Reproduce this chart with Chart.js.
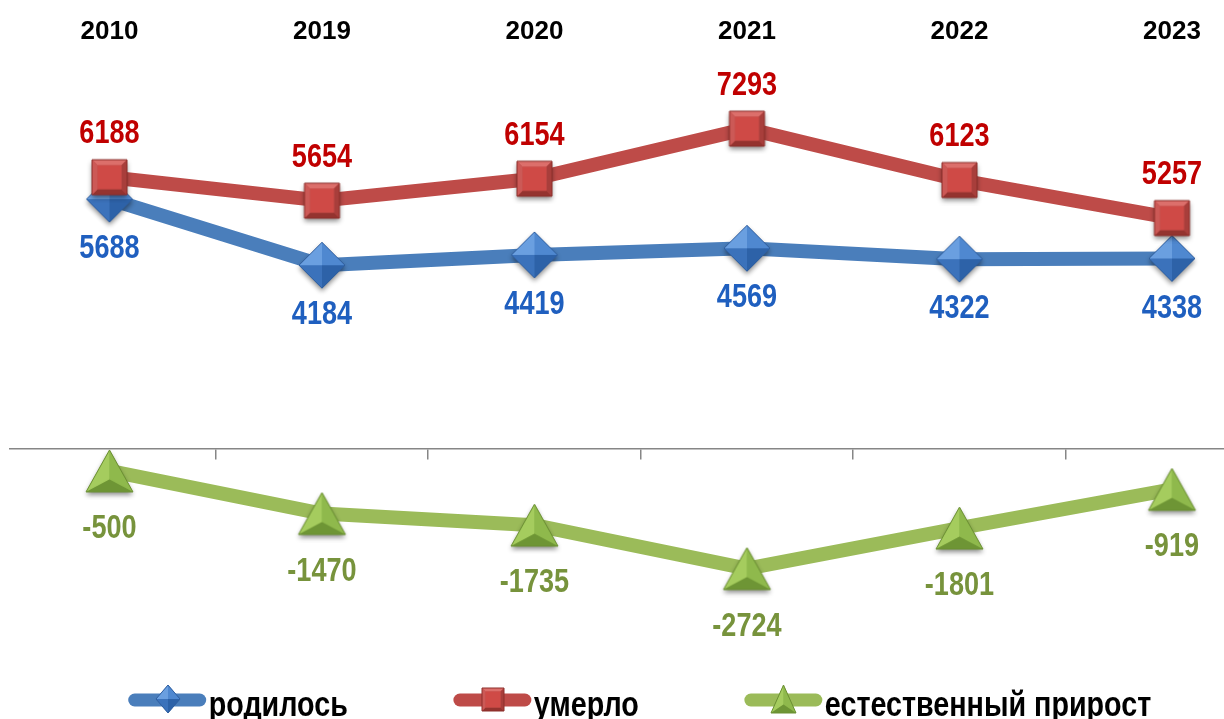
<!DOCTYPE html>
<html><head><meta charset="utf-8">
<script src="https://cdn.jsdelivr.net/npm/chart.js@4.4.1/dist/chart.umd.min.js"></script>
<style>html,body{margin:0;padding:0;background:#fff;overflow:hidden}#wrap{width:1224px;height:719px;position:relative}</style>
</head><body><div id="wrap"><canvas id="c"></canvas></div>
<script>
// ---- data ----
const years = ['2010', '2019', '2020', '2021', '2022', '2023'];
const born = [5688, 4184, 4419, 4569, 4322, 4338];
const died = [6188, 5654, 6154, 7293, 6123, 5257];
const natural = [-500, -1470, -1735, -2724, -1801, -919];
const seriesNames = ['родилось', 'умерло', 'естественный прирост'];

// ---- styles ----
const FONT = '"Liberation Sans", Arial, sans-serif';
const NARROW_SCALE = 0.82;
const X_MIN = -0.468, X_MAX = 5.245;
const Y_MIN = -4500, Y_MAX = 9000;

const palettes = {
  diamond: {base: '#4a80c8', f: ['#6a9fe0', '#4f88d0', '#2d62a8', '#3b72bb'], edge: '#2f5e9e'},
  square: {base: '#c0504d', top: '#dc6f6b', left: '#cc5956', right: '#a83e3b', bottom: '#94332f', center: '#cf4a46', edge: '#8c2e2b'},
  triangle: {base: '#8db84a', f: ['#a5cc5e', '#8fb94c', '#6e9535'], edge: '#6b8f33'}
};

function makeMarker(kind, w, h, shadow) {
  const pad = 8;
  const c = document.createElement('canvas');
  c.width = Math.ceil(w + 2 * pad); c.height = Math.ceil(h + 2 * pad);
  const g = c.getContext('2d');
  const cx = c.width / 2, cy = c.height / 2;
  const pal = palettes[kind];
  let pts;
  if (kind === 'diamond') pts = [[cx, cy - h / 2], [cx + w / 2, cy], [cx, cy + h / 2], [cx - w / 2, cy]];
  else if (kind === 'square') pts = [[cx - w / 2, cy - h / 2], [cx + w / 2, cy - h / 2], [cx + w / 2, cy + h / 2], [cx - w / 2, cy + h / 2]];
  else pts = [[cx, cy - h / 2], [cx + w / 2, cy + h / 2], [cx - w / 2, cy + h / 2]];
  const poly = (p) => { g.beginPath(); g.moveTo(p[0][0], p[0][1]); for (let i = 1; i < p.length; i++) g.lineTo(p[i][0], p[i][1]); g.closePath(); };
  g.save();
  if (shadow) { g.shadowColor = 'rgba(0,0,0,0.45)'; g.shadowBlur = 5; g.shadowOffsetY = 3; }
  poly(pts); g.fillStyle = pal.base; g.fill();
  g.restore();
  if (kind === 'diamond') {
    const a = [cx, cy];
    const fac = [[pts[3], pts[0]], [pts[0], pts[1]], [pts[1], pts[2]], [pts[2], pts[3]]];
    fac.forEach((f, i) => { poly([f[0], f[1], a]); g.fillStyle = pal.f[i]; g.fill(); });
  } else if (kind === 'triangle') {
    const a = [cx, cy + h * 0.2];
    const fac = [[pts[0], pts[2]], [pts[0], pts[1]], [pts[1], pts[2]]];
    fac.forEach((f, i) => { poly([f[0], f[1], a]); g.fillStyle = pal.f[i]; g.fill(); });
  } else {
    const b = w * 0.16;
    const ip = [[cx - w / 2 + b, cy - h / 2 + b], [cx + w / 2 - b, cy - h / 2 + b], [cx + w / 2 - b, cy + h / 2 - b], [cx - w / 2 + b, cy + h / 2 - b]];
    poly([pts[0], pts[1], ip[1], ip[0]]); g.fillStyle = pal.top; g.fill();
    poly([pts[1], pts[2], ip[2], ip[1]]); g.fillStyle = pal.right; g.fill();
    poly([pts[2], pts[3], ip[3], ip[2]]); g.fillStyle = pal.bottom; g.fill();
    poly([pts[3], pts[0], ip[0], ip[3]]); g.fillStyle = pal.left; g.fill();
    poly(ip); g.fillStyle = pal.center; g.fill();
  }
  poly(pts); g.strokeStyle = pal.edge; g.lineWidth = 1; g.stroke();
  return c;
}

const seriesStyle = [
  {color: '#4a7ebb', marker: makeMarker('diamond', 46, 46, true), legendMarker: makeMarker('diamond', 24, 28, false), label: '#1f5fbf', dy: 50},
  {color: '#be4b48', marker: makeMarker('square', 35, 35, true), legendMarker: makeMarker('square', 22, 23, false), label: '#c00000', dy: -43},
  {color: '#9bbb59', marker: makeMarker('triangle', 47, 42, true), legendMarker: makeMarker('triangle', 25, 28, false), label: '#77933c', dy: 58}
];

const seriesValues = [born, died, natural];
const drawOrder = [1, 0, 2];

const datasets = seriesValues.map((vals, k) => ({
  label: seriesNames[k],
  data: vals.map((v, i) => ({x: i, y: v})),
  borderColor: seriesStyle[k].color,
  backgroundColor: seriesStyle[k].color,
  borderWidth: 14,
  borderJoinStyle: 'round',
  borderCapStyle: 'round',
  tension: 0,
  pointStyle: seriesStyle[k].marker,
  pointRadius: 20,
  pointHoverRadius: 20,
  order: drawOrder[k],
  xAxisID: 'x',
  yAxisID: 'y'
}));

function narrowText(ctx, text, x, y, align) {
  ctx.save();
  ctx.translate(x, y);
  ctx.scale(NARROW_SCALE, 1);
  ctx.textAlign = align;
  ctx.fillText(text, 0, 0);
  ctx.restore();
}

const valueLabels = {
  id: 'valueLabels',
  afterDatasetsDraw(chart) {
    const ctx = chart.ctx;
    ctx.save();
    ctx.font = 'bold 33px ' + FONT;
    ctx.textBaseline = 'middle';
    chart.data.datasets.forEach((ds, k) => {
      const meta = chart.getDatasetMeta(k);
      meta.data.forEach((pt, i) => {
        ctx.fillStyle = seriesStyle[k].label;
        narrowText(ctx, String(ds.data[i].y), pt.x, pt.y + seriesStyle[k].dy, 'center');
      });
    });
    ctx.restore();
  }
};

const customLegend = {
  id: 'customLegend',
  afterDraw(chart) {
    const ctx = chart.ctx;
    ctx.save();
    ctx.font = 'bold 35px ' + FONT;
    const barLen = 77, gapText = 3, gapItem = 106, centerX = 640, y = 700;
    const items = chart.data.datasets.map((ds, k) => ({text: ds.label, k, w: barLen + gapText + ctx.measureText(ds.label).width * NARROW_SCALE}));
    const total = items.reduce((s, it) => s + it.w, 0) + gapItem * (items.length - 1);
    let x = centerX - total / 2;
    items.forEach(it => {
      const st = seriesStyle[it.k];
      ctx.strokeStyle = st.color; ctx.lineWidth = 13; ctx.lineCap = 'round';
      ctx.beginPath(); ctx.moveTo(x + 6, y); ctx.lineTo(x + barLen - 6, y); ctx.stroke();
      const m = st.legendMarker;
      ctx.drawImage(m, Math.round(x + 39 - m.width / 2), Math.round(y - 1 - m.height / 2));
      ctx.fillStyle = '#000'; ctx.textBaseline = 'alphabetic';
      narrowText(ctx, it.text, x + barLen + gapText, 716, 'left');
      x += it.w + gapItem;
    });
    ctx.restore();
  }
};

const noPad = (s) => { s.paddingLeft = 0; s.paddingRight = 0; };

new Chart(document.getElementById('c'), {
  type: 'line',
  data: {datasets},
  options: {
    responsive: true,
    maintainAspectRatio: false,
    animation: false,
    devicePixelRatio: 1,
    layout: {autoPadding: false, padding: {left: 10, right: 0, top: 10.5, bottom: 72.4}},
    plugins: {legend: {display: false}, tooltip: {enabled: false}},
    scales: {
      x: {
        type: 'linear', position: 'top', min: X_MIN, max: X_MAX,
        grid: {display: false, drawTicks: false},
        border: {display: false},
        afterBuildTicks: (s) => { s.ticks = years.map((_, i) => ({value: i})); },
        afterFit: noPad,
        ticks: {
          padding: 6, autoSkip: false, maxRotation: 0, color: '#000',
          font: {family: FONT, weight: 'bold', size: 26},
          callback: (v) => years[v]
        }
      },
      x2: {
        type: 'linear', position: {y: 0}, min: X_MIN, max: X_MAX,
        grid: {display: true, drawOnChartArea: false, drawTicks: true, tickLength: 10, color: '#868686', lineWidth: 1.5},
        border: {display: true, color: '#868686', width: 1.5},
        afterBuildTicks: (s) => { s.ticks = years.slice(1).map((_, i) => ({value: i + 0.5})); },
        afterFit: noPad,
        ticks: {display: false}
      },
      y: {type: 'linear', display: false, min: Y_MIN, max: Y_MAX}
    }
  },
  plugins: [valueLabels, customLegend]
});
</script>
</body></html>
